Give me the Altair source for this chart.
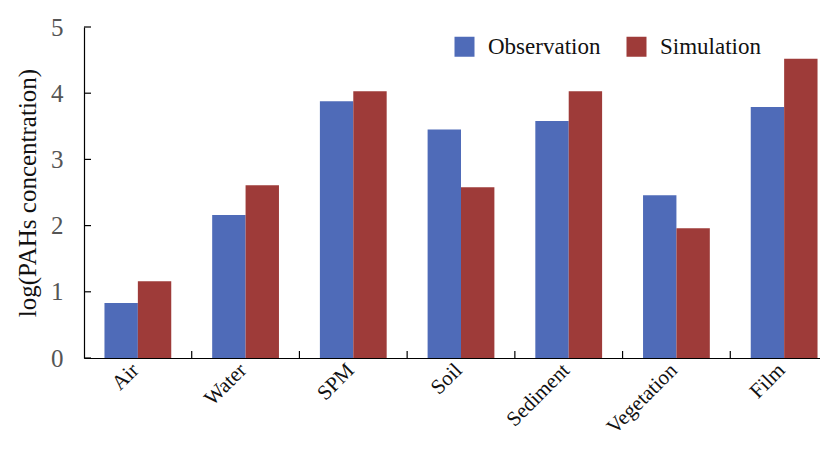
import altair as alt
import pandas as pd

categories = ["Air", "Water", "SPM", "Soil", "Sediment", "Vegetation", "Film"]
observation = [0.83, 2.16, 3.88, 3.45, 3.58, 2.46, 3.79]
simulation = [1.16, 2.61, 4.03, 2.58, 4.03, 1.96, 4.52]
series_names = ["Observation", "Simulation"]
y_ticks = [0, 1, 2, 3, 4, 5]
x_boundaries = [1, 2, 3, 4, 5, 6]

rows = []
for c, o, s in zip(categories, observation, simulation):
    rows.append({"cat": c, "series": series_names[0], "value": o})
    rows.append({"cat": c, "series": series_names[1], "value": s})
df = pd.DataFrame(rows)

FONT = "Liberation Serif"
W = 736
H = 331
RANGE_W = 754

bars = alt.Chart(df).mark_bar().encode(
    x=alt.X("cat:N", sort=categories, title=None,
            scale=alt.Scale(paddingInner=0.38, paddingOuter=0.19, range=[0, RANGE_W]),
            axis=alt.Axis(labelAngle=-45, labelFont=FONT, labelFontSize=21,
                          labelColor="#111", ticks=False, domainColor="#000",
                          domainWidth=1.2, labelPadding=1, labelOffset=-10)),
    xOffset=alt.XOffset("series:N", sort=series_names),
    y=alt.Y("value:Q", title="log(PAHs concentration)",
            scale=alt.Scale(domain=[0, 5], nice=False),
            axis=alt.Axis(values=y_ticks, format="d", grid=False, ticks=False, labelFont=FONT,
                          labelFontSize=25, labelColor="#555", labelPadding=21,
                          domainColor="#000", domainWidth=1.2, titleFont=FONT,
                          titleFontSize=25, titleFontWeight="normal", titleColor="#111",
                          titlePadding=10)),
    color=alt.Color("series:N", sort=series_names,
                    scale=alt.Scale(domain=series_names, range=["#4F6BB8", "#9E3B39"]),
                    legend=alt.Legend(title=None, orient="none", direction="horizontal",
                                      legendX=369, legendY=8, symbolType="square",
                                      symbolSize=400, symbolStrokeWidth=0,
                                      labelFont=FONT, labelFontSize=23, labelColor="#111",
                                      labelOffset=12, columnPadding=24)),
)

ytick_df = pd.DataFrame({"t": y_ticks})
yticks = alt.Chart(ytick_df).mark_rule(color="#000", strokeWidth=1.2).encode(
    y=alt.Y("t:Q"),
    x=alt.value(0),
    x2=alt.value(7),
)

xb_df = pd.DataFrame({"b": x_boundaries})
xticks = alt.Chart(xb_df).mark_rule(color="#000", strokeWidth=1.2).encode(
    x=alt.X("b:Q", scale=alt.Scale(domain=[0, 7], range=[0, RANGE_W], nice=False), axis=None),
    y=alt.value(H),
    y2=alt.value(H - 7),
)

chart = alt.layer(bars, yticks, xticks).resolve_scale(x="independent").properties(
    width=W, height=H,
    autosize=alt.AutoSizeParams(type="none"),
    padding={"left": 76, "top": 19, "right": 0, "bottom": 84},
).configure_view(stroke=None)

chart.save("out.html", embed_options={"renderer": "svg", "actions": False})
